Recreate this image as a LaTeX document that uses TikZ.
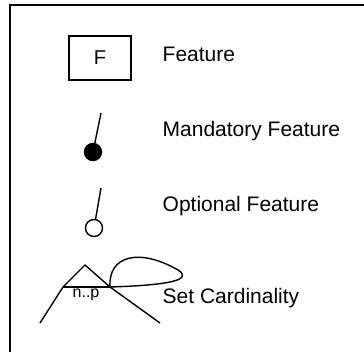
\documentclass[tikz,border=0pt]{standalone}
\usepackage{fontspec}
\setmainfont{Liberation Sans}
\usepackage{tikz}
\usetikzlibrary{positioning}

\begin{document}
\begin{tikzpicture}[x=1pt, y=-1pt, line width=1.4pt,
		feat/.style = {draw, minimum width=62pt, minimum height=44pt, font=\fontsize{20}{23}\selectfont},
		lbl/.style = {anchor=west, font=\fontsize{21}{24}\selectfont, inner sep=0pt},
		mand/.style = {draw, circle, fill=black, minimum size=17pt, inner sep=0pt},
		opt/.style = {draw, circle, fill=white, minimum size=17pt, inner sep=0pt}]
	\useasboundingbox (0,0) rectangle (364,352);
	\draw (10,5) rectangle (370,360);

	% legend entries
	\node[feat] (1) at (100,58) {F};
	\node[lbl] (2) at (162,54) {Feature};

	\coordinate (3) at (101,113);
	\node[mand] (4) at (93,152) {};
	\node[lbl] (5) at (162,131) {Mandatory Feature};

	\coordinate (6) at (101,188);
	\node[opt] (7) at (94,228) {};
	\node[lbl] (8) at (162,206) {Optional Feature};

	\coordinate (9) at (40,323);
	\coordinate (10) at (63,287);
	\coordinate (11) at (85,265);
	\coordinate (12) at (110,287);
	\coordinate (13) at (160,323);
	\node[font=\fontsize{16}{18}\selectfont, inner sep=0pt] (14) at (86,295) {n..p};
	\node[lbl] (15) at (162,298) {Set Cardinality};

	\draw (3) -- (4);
	\draw (6) -- (7);
	\draw (9) -- (10) -- (11) -- (12) -- (13);
	\draw (10) -- (12);
	\draw (12) .. controls (108,255) and (140,248) .. (178,270)
		.. controls (192,279) and (175,285) .. (12);
\end{tikzpicture}
\end{document}
